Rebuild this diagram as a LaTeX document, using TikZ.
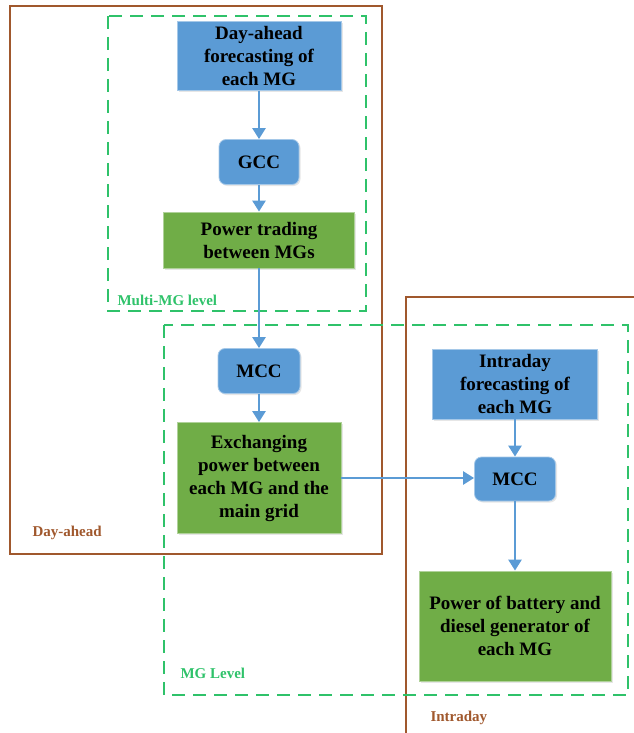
\documentclass[tikz,border=0pt]{standalone}
\usepackage{fontspec}
\setmainfont{Liberation Serif}
\usetikzlibrary{arrows.meta,shadows}

\definecolor{boxblue}{HTML}{5B9BD5}
\definecolor{boxgreen}{HTML}{70AD47}
\definecolor{framebrown}{HTML}{A0582D}
\definecolor{levelgreen}{HTML}{2FC26A}

\tikzset{
  blockblue/.style={rectangle, fill=boxblue, draw=boxblue!55!white, line width=0.8pt, align=center,
    font=\fontsize{19}{23}\selectfont\bfseries, drop shadow={opacity=0.2,shadow xshift=1.5pt,shadow yshift=-1.5pt}},
  blockgreen/.style={blockblue, fill=boxgreen, draw=boxgreen!55!white},
  ctrl/.style={blockblue, rounded corners=7pt},
  flow/.style={draw=boxblue, line width=2.5pt, -{Triangle[width=13pt,length=11pt]}},
  timeframe/.style={draw=framebrown, line width=2.2pt},
  levelframe/.style={draw=levelgreen, line width=2.2pt, dash pattern=on 13pt off 8pt},
  framelabel/.style={anchor=west, font=\fontsize{15}{18}\selectfont\bfseries}
}

\begin{document}
\begin{tikzpicture}[x=1pt,y=-1pt]
    \clip (0,0) rectangle (634,733);
    \useasboundingbox (0,0) rectangle (634,733);

    % time frames
    \draw[timeframe] (10,6) rectangle (382,554); % day-ahead
    \draw[timeframe] (406,760) -- (406,297) -- (650,297); % intraday
    % control levels
    \draw[levelframe] (108,16) rectangle (366,311); % multi-MG
    \draw[levelframe] (164,325) rectangle (628,695); % MG

    % day-ahead chain
    \node[blockblue, minimum width=164pt, minimum height=69pt] (dayfc) at (259,56) {Day-ahead\\forecasting of\\each MG};
    \node[ctrl, minimum width=80pt, minimum height=45pt] (gcc) at (259,162) {GCC};
    \node[blockgreen, minimum width=191pt, minimum height=56pt] (trading) at (259,240) {Power trading\\between MGs};
    \node[ctrl, minimum width=82pt, minimum height=45pt] (mccda) at (259,371) {MCC};
    \node[blockgreen, minimum width=164pt, minimum height=111pt] (exchange) at (259,478) {Exchanging\\power between\\each MG and the\\main grid};

    % intraday chain
    \node[blockblue, minimum width=165pt, minimum height=70pt] (intrafc) at (515,384) {Intraday\\forecasting of\\each MG};
    \node[ctrl, minimum width=81pt, minimum height=44pt] (mccid) at (515,479) {MCC};
    \node[blockgreen, minimum width=192pt, minimum height=110pt] (battery) at (515,626) {Power of battery and\\diesel generator of\\each MG};

    % connectors
    \draw[flow] (dayfc) -- (gcc);
    \draw[flow] (gcc) -- (trading);
    \draw[flow] (trading) -- (mccda);
    \draw[flow] (mccda) -- (exchange);
    \draw[flow] (exchange.east) -- (exchange.east -| mccid.west);
    \draw[flow] (intrafc) -- (mccid);
    \draw[flow] (mccid) -- (battery);

    % frame labels
    \node[framelabel, text=levelgreen] (lblmulti) at (114,300) {Multi-MG level};
    \node[framelabel, text=framebrown] (lbldayahead) at (29,533) {Day-ahead};
    \node[framelabel, text=levelgreen] (lblmg) at (177,673) {MG Level};
    \node[framelabel, text=framebrown] (lblintraday) at (427,718) {Intraday};
\end{tikzpicture}
\end{document}
